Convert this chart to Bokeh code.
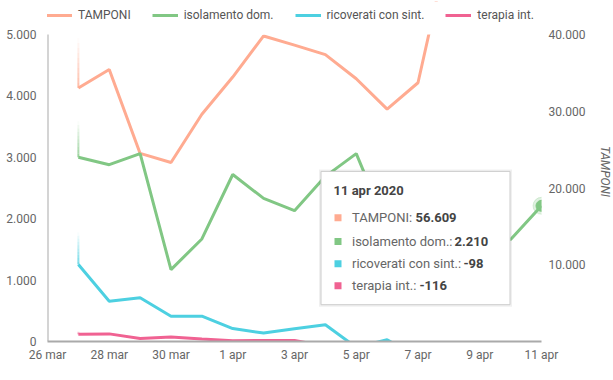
from datetime import date
from bokeh.plotting import figure
from bokeh.models import Range1d, LinearAxis, FixedTicker, Legend, LegendItem
from bokeh.embed import file_html
from bokeh.resources import INLINE
from bokeh.core.properties import value

# ---------------- data ----------------
DATES = ["2020-03-27", "2020-03-28", "2020-03-29", "2020-03-30", "2020-03-31",
         "2020-04-01", "2020-04-02", "2020-04-03", "2020-04-04", "2020-04-05",
         "2020-04-06", "2020-04-07", "2020-04-08", "2020-04-09", "2020-04-10",
         "2020-04-11"]
TAMPONI = [33019, 35447, 24504, 23329, 29609, 34455, 39809, 38617, 37375, 34237,
           30271, 33713, 51680, 46244, 53495, 56609]
ISOLAMENTO = [3000, 2880, 3060, 1170, 1670, 2720, 2330, 2130, 2690, 3060,
              1850, 1240, 1530, 1910, 1660, 2210]
RICOVERATI = [1255, 656, 712, 412, 412, 210, 137, 207, 272, -95,
              28, -258, -233, -208, -157, -98]
TERAPIA = [120, 124, 50, 75, 42, 12, 18, 15, -74, -17,
           -79, -106, -99, -88, -108, -116]

START_DATE = "2020-03-26"
END_DATE = "2020-04-11"
X_TICK_DATES = ["2020-03-26", "2020-03-28", "2020-03-30", "2020-04-01", "2020-04-03",
                "2020-04-05", "2020-04-07", "2020-04-09", "2020-04-11"]
X_TICK_LABELS = ["26 mar", "28 mar", "30 mar", "1 apr", "3 apr", "5 apr", "7 apr",
                 "9 apr", "11 apr"]
LEFT_TICKS = [0, 1000, 2000, 3000, 4000, 5000]
LEFT_TICK_LABELS = ["0", "1.000", "2.000", "3.000", "4.000", "5.000"]
RIGHT_TICKS = [10000, 20000, 30000, 40000]
RIGHT_TICK_LABELS = ["10.000", "20.000", "30.000", "40.000"]
LEFT_MAX = 5000
RIGHT_MAX = 40000
TIP_TITLE = "11 apr 2020"

NAMES = ["TAMPONI", "isolamento dom.", "ricoverati con sint.", "terapia int."]
COLORS = ["#FFAB91", "#81C784", "#4DD0E1", "#F06292"]

# ---------------- helpers ----------------
def d(s):
    y, m, dd = map(int, s.split("-"))
    return date(y, m, dd)

start = d(START_DATE)
X = [(d(s) - start).days for s in DATES]
XT = [(d(s) - start).days for s in X_TICK_DATES]
X_END = (d(END_DATE) - start).days

FONT = "Roboto"
FRAME_W = 494
PLOT_H = 307          # pixel height of the 0..LEFT_MAX value area
HEAD_H = 33           # strip above the value area that hosts the legend
FRAME_H = PLOT_H + HEAD_H
Y_END = LEFT_MAX * FRAME_H / PLOT_H

p = figure(frame_width=FRAME_W, frame_height=FRAME_H,
           x_range=Range1d(0, X_END), y_range=Range1d(0, Y_END),
           output_backend="svg", toolbar_location=None,
           min_border_left=47, min_border_right=56, min_border_top=1,
           min_border_bottom=28, outline_line_color=None,
           background_fill_color="white", border_fill_color="white")
p.extra_y_ranges = {"tamp": Range1d(0, RIGHT_MAX * Y_END / LEFT_MAX)}
p.xgrid.visible = False
p.ygrid.visible = False

AX_COLOR = "#aaaaaa"
TXT = "#666666"

xa = p.xaxis[0]
xa.ticker = FixedTicker(ticks=XT)
xa.major_label_overrides = {t: l for t, l in zip(XT, X_TICK_LABELS)}
ya = p.yaxis[0]
ya.ticker = FixedTicker(ticks=LEFT_TICKS)
ya.major_label_overrides = {t: l for t, l in zip(LEFT_TICKS, LEFT_TICK_LABELS)}
ra = LinearAxis(y_range_name="tamp", axis_label="TAMPONI")
ra.ticker = FixedTicker(ticks=RIGHT_TICKS)
ra.major_label_overrides = {t: l for t, l in zip(RIGHT_TICKS, RIGHT_TICK_LABELS)}
p.add_layout(ra, "right")

for ax in (xa, ya, ra):
    ax.major_tick_line_color = None
    ax.minor_tick_line_color = None
    ax.major_tick_out = 0
    ax.major_tick_in = 0
    ax.major_label_text_font = FONT
    ax.major_label_text_font_size = "12px"
    ax.major_label_text_color = TXT
    ax.axis_line_color = AX_COLOR
    ax.axis_line_width = 2
xa.major_label_standoff = 6
ya.major_label_standoff = 11
ya.axis_line_color = None      # drawn below, only over the value area
ra.major_label_standoff = 7
ra.axis_line_color = None
ra.axis_label_text_font = FONT
ra.axis_label_text_font_size = "12px"
ra.axis_label_text_font_style = "italic"
ra.axis_label_text_color = TXT
ra.axis_label_standoff = 10

# ---------------- lines ----------------
r_t = p.line(X, TAMPONI, y_range_name="tamp", line_color=COLORS[0], line_width=3)
r_i = p.line(X, ISOLAMENTO, line_color=COLORS[1], line_width=3)
r_r = p.line(X, RICOVERATI, line_color=COLORS[2], line_width=3)
r_p = p.line(X, TERAPIA, line_color=COLORS[3], line_width=3)
rends = [r_t, r_i, r_r, r_p]

sx = FRAME_W / X_END
sy = PLOT_H / LEFT_MAX

# faint fading tails rising from each line's first point (animation trail)
TRAIL_PX = [50, 36, 32, 3]
firsts = [TAMPONI[0] * LEFT_MAX / RIGHT_MAX, ISOLAMENTO[0], RICOVERATI[0], TERAPIA[0]]
N_STEP = 10
for c, f0, L in zip(COLORS, firsts, TRAIL_PX):
    for s in range(N_STEP):
        y0 = f0 + (s * L / N_STEP) / sy
        y1 = f0 + ((s + 1) * L / N_STEP) / sy
        p.segment(x0=[X[0]], x1=[X[0]], y0=[y0], y1=[y1], line_color=c,
                  line_width=2, line_alpha=0.8 * (1 - (s + 0.5) / N_STEP))

# mask the strip above the value area (lines are clipped at LEFT_MAX)
p.quad(left=[0], right=[X_END], bottom=[LEFT_MAX], top=[Y_END],
       fill_color="white", line_color=None)
# left axis line over the value area only
p.segment(x0=[0], x1=[0], y0=[0], y1=[LEFT_MAX], line_color=AX_COLOR, line_width=2)

legend = Legend(items=[LegendItem(label=n, renderers=[r]) for n, r in zip(NAMES, rends)],
                orientation="horizontal", location=(-1, FRAME_H - 21),
                label_text_font=FONT, label_text_font_size="12px",
                label_text_color="#555555", glyph_width=26, glyph_height=14,
                label_height=14, label_standoff=6, spacing=21, padding=0,
                margin=0, border_line_color=None, background_fill_alpha=0)
p.add_layout(legend, "center")

# ---------------- hover point + tooltip ----------------
ti = len(DATES) - 1
ax0 = X[ti]
ay0 = ISOLAMENTO[ti]

def px_x(o):
    return ax0 + o / sx

def px_y(o):  # o positive = downward on screen
    return ay0 - o / sy

p.scatter([ax0], [ay0], size=17, color=COLORS[1], alpha=0.25)
p.scatter([ax0], [ay0], size=11, color=COLORS[1], line_color=COLORS[1])

p.quad(left=[px_x(-222.5)], right=[px_x(-29.5)], top=[px_y(-36.4)], bottom=[px_y(100.9)],
       fill_color="#000000", fill_alpha=0.06, line_color=None)
p.quad(left=[px_x(-220.5)], right=[px_x(-31.5)], top=[px_y(-34.4)], bottom=[px_y(98.9)],
       fill_color="white", line_color="#cccccc", line_width=1)

p.text(x=[ax0], y=[ay0], text=[TIP_TITLE], x_offset=-208, y_offset=-15,
       text_baseline="middle", text_align="left", text_font=value(FONT),
       text_font_size="13px", text_font_style="bold", text_color="#444444")

ROW_DY = [12, 35.6, 58, 80]
VAL_DX = [-126, -87, -78, -122]
vals = [TAMPONI[ti], ISOLAMENTO[ti], RICOVERATI[ti], TERAPIA[ti]]
for k in range(4):
    p.scatter([px_x(-203.5)], [px_y(ROW_DY[k])], marker="square", size=7,
              color=COLORS[k], line_color=None)
    p.text(x=[ax0], y=[ay0], text=[NAMES[k] + ":"], x_offset=-189.5, y_offset=ROW_DY[k],
           text_baseline="middle", text_align="left", text_font=value(FONT),
           text_font_size="13px", text_color="#666666")
    p.text(x=[ax0], y=[ay0], text=[f"{vals[k]:,}".replace(",", ".")],
           x_offset=VAL_DX[k], y_offset=ROW_DY[k],
           text_baseline="middle", text_align="left", text_font=value(FONT),
           text_font_size="13px", text_font_style="bold", text_color="#444444")

open("out.html", "w").write(file_html(p, INLINE))
